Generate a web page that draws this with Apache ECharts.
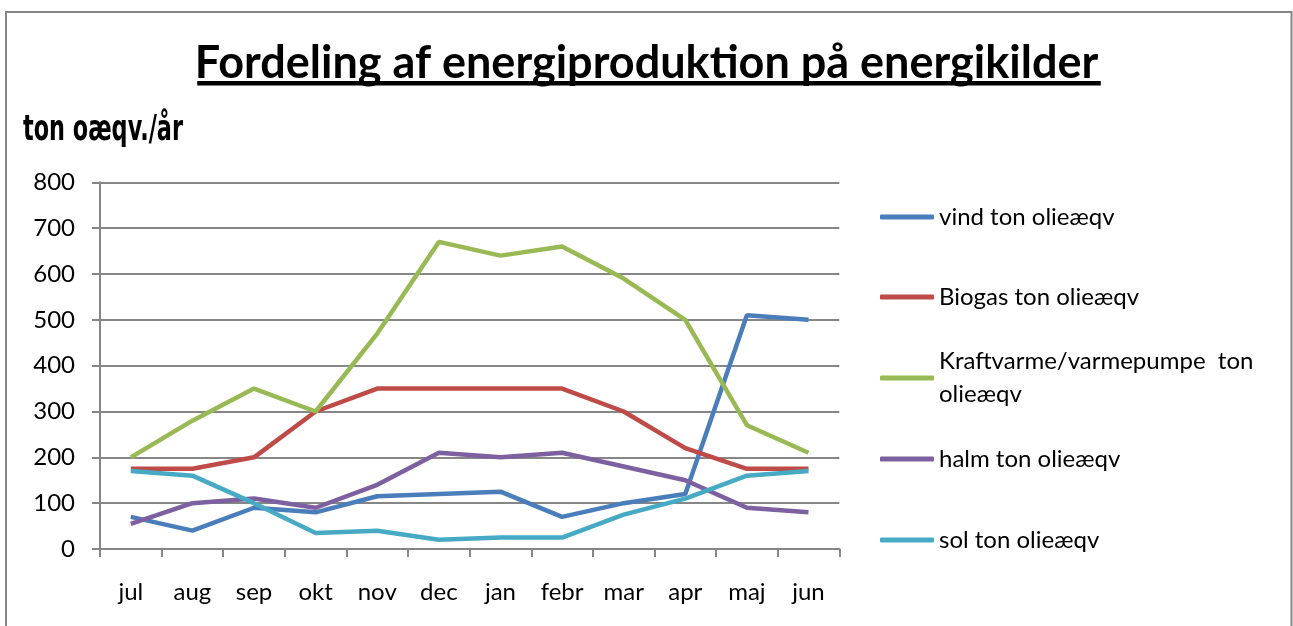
<!DOCTYPE html>
<html lang="da">
<head>
  <meta charset="UTF-8">
  <title>Fordeling af energiproduktion</title>
</head>
<body style="margin:0; background:#ffffff;">
<div id="main" style="width:1293px; height:626px;"></div>

<script src="https://cdn.jsdelivr.net/npm/echarts@6/dist/echarts.min.js"></script>

<script>
  var months = ['jul', 'aug', 'sep', 'okt', 'nov', 'dec', 'jan', 'febr', 'mar', 'apr', 'maj', 'jun'];

  var seriesNames = [
    'vind ton olieæqv',
    'Biogas ton olieæqv',
    'Kraftvarme/varmepumpe  ton olieæqv',
    'halm ton olieæqv',
    'sol ton olieæqv'
  ];

  var vind       = [70, 40, 90, 80, 115, 120, 125, 70, 100, 120, 510, 500];
  var biogas     = [175, 175, 200, 300, 350, 350, 350, 350, 300, 220, 175, 175];
  var kraftvarme = [200, 280, 350, 300, 470, 670, 640, 660, 590, 500, 270, 210];
  var halm       = [55, 100, 110, 90, 140, 210, 200, 210, 180, 150, 90, 80];
  var sol        = [170, 160, 100, 35, 40, 20, 25, 25, 75, 110, 160, 170];

  var yTicks = { min: 0, max: 800, interval: 100 };

  var colors = ['#4a7ebb', '#be4b48', '#98b954', '#7d60a0', '#46aac5'];
  var font = 'Lato, "Open Sans", sans-serif';
  var titleText = 'Fordeling af energiproduktion på energikilder';
  var titleSize = 45;
  var unitText = 'ton oæqv./år';
  var unitFont = 'bold 36px "DejaVu Sans Condensed", sans-serif';

  // measure texts: underline width for the title, squeeze for the unit label
  var ctx = document.createElement('canvas').getContext('2d');
  ctx.font = 'bold ' + titleSize + 'px ' + font;
  var titleW = ctx.measureText(titleText).width;
  ctx.font = unitFont;
  var unitScale = 160 / ctx.measureText(unitText).width;

  var chart = echarts.init(document.getElementById('main'));

  var allData = [vind, biogas, kraftvarme, halm, sol];
  var series = allData.map(function (d, i) {
    return {
      name: seriesNames[i],
      type: 'line',
      data: d,
      symbol: 'none',
      lineStyle: { color: colors[i], width: 4.5 },
      itemStyle: { color: colors[i] },
      z: 3
    };
  });

  // one legend per entry so the spacing matches the Excel layout
  var legendCenters = [217, 297, 378, 459, 540];
  var lh = 33;
  var legends = seriesNames.map(function (n, i) {
    var wrap = i === 2;
    return {
      data: [n],
      left: 880,
      top: legendCenters[i] - (wrap ? lh * 1.5 : lh / 2),
      icon: 'roundRect',
      itemWidth: 54,
      itemHeight: 5,
      itemGap: 5,
      selectedMode: false,
      padding: 0,
      formatter: function (name) {
        return wrap ? 'Kraftvarme/varmepumpe  ton\nolieæqv' : name;
      },
      textStyle: {
        fontFamily: font,
        fontSize: 24,
        color: '#000',
        lineHeight: lh,
        padding: wrap ? [lh, 0, 0, 0] : 0
      }
    };
  });

  var option = {
    backgroundColor: '#ffffff',
    animation: false,
    title: {
      text: titleText,
      left: 'center',
      top: 38,
      padding: 0,
      textStyle: {
        fontFamily: font,
        fontWeight: 'bold',
        fontSize: titleSize,
        lineHeight: 50,
        color: '#000'
      }
    },
    legend: legends,
    grid: {
      left: 100,
      right: 453.7,
      top: 182.3,
      bottom: 77,
      containLabel: false
    },
    xAxis: {
      type: 'category',
      data: months,
      boundaryGap: true,
      axisLine: { lineStyle: { color: '#868686', width: 2 } },
      axisTick: { show: true, length: 8, lineStyle: { color: '#868686', width: 2 } },
      axisLabel: { margin: 31, fontFamily: font, fontSize: 24, color: '#000' }
    },
    yAxis: {
      type: 'value',
      min: yTicks.min,
      max: yTicks.max,
      interval: yTicks.interval,
      axisLine: { show: true, lineStyle: { color: '#868686', width: 2 } },
      axisTick: { show: true, length: 8, lineStyle: { color: '#868686', width: 2 } },
      splitLine: { lineStyle: { color: '#868686', width: 2 } },
      axisLabel: { margin: 25, fontFamily: font, fontSize: 24, color: '#000' }
    },
    graphic: [
      {
        type: 'rect',
        shape: { x: 6, y: 12, width: 1285.5, height: 640 },
        style: { fill: null, stroke: '#868686', lineWidth: 2 },
        silent: true
      },
      {
        // underline of the title
        type: 'rect',
        shape: { x: 649 - titleW / 2, y: 81, width: titleW, height: 4.5 },
        style: { fill: '#000' },
        silent: true
      },
      {
        type: 'text',
        x: 23,
        y: 131,
        scaleX: unitScale,
        style: {
          text: unitText,
          font: unitFont,
          verticalAlign: 'middle',
          fill: '#000'
        }
      }
    ],
    series: series
  };

  chart.setOption(option);
</script>
</body>
</html>
